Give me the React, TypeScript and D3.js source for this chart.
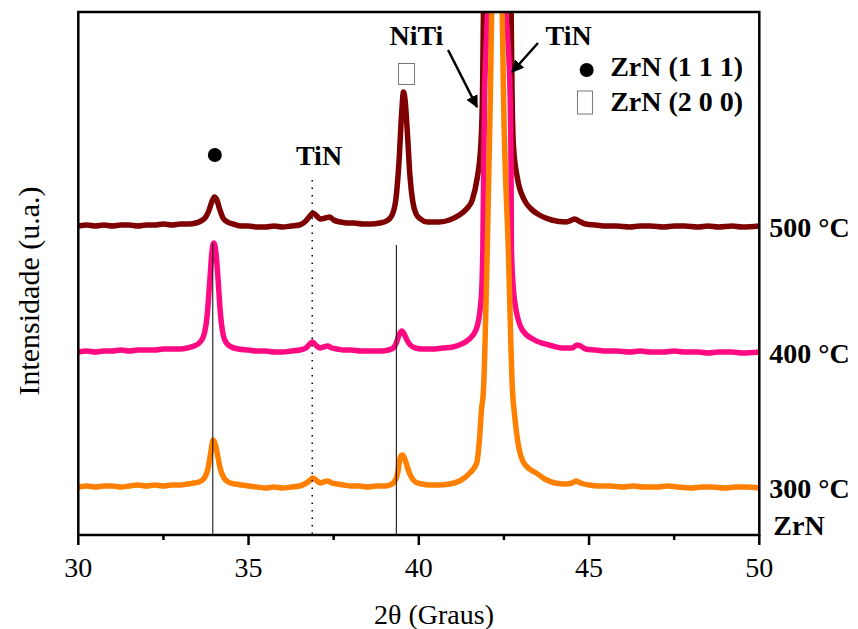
import React from "react";
import * as d3 from "d3";

// 2θ (deg), intensity (a.u., relative to each pattern's own baseline)
const zrn300: [number, number][] = [[30.0,0],[30.25,1],[30.5,0],[30.75,1],[31.0,1],[31.25,0],[31.5,1],[31.75,2],[32.0,1],[32.25,2],[32.5,1],[32.75,2],[33.0,2],[33.2,3],[33.4,4],[33.55,5],[33.7,9],[33.8,17],[33.88,32],[33.96,47],[34.03,42],[34.1,30],[34.18,17],[34.28,9],[34.4,5],[34.6,3],[34.8,2],[35.0,1],[35.25,0],[35.5,-1],[35.75,0],[36.0,-1],[36.25,0],[36.5,1],[36.65,3],[36.78,6],[36.88,9],[36.98,7],[37.1,4],[37.2,5],[37.32,6],[37.45,4],[37.6,3],[37.8,2],[38.0,1],[38.25,1],[38.5,0],[38.75,1],[39.0,1],[39.15,2],[39.28,5],[39.38,14],[39.46,30],[39.52,32],[39.6,27],[39.68,18],[39.78,10],[39.9,5],[40.1,3],[40.3,2],[40.6,2],[40.9,3],[41.2,6],[41.5,14],[41.7,24],[41.78,47],[41.84,77],[41.9,97],[42.01,237],[42.1,387],[42.14,475],[42.2,580],[42.3,640],[42.4,580],[42.45,475],[42.49,387],[42.63,237],[42.75,97],[42.82,70],[42.9,47],[43.04,27],[43.25,18],[43.45,14],[43.7,8],[44.0,4],[44.3,3],[44.5,4],[44.62,6],[44.75,4],[45.0,2],[45.3,1],[45.6,1],[46.0,0],[46.3,1],[46.6,0],[47.0,0],[47.3,1],[47.6,0],[48.0,-1],[48.3,0],[48.6,0],[49.0,-1],[49.3,0],[49.6,0],[50.0,-1]];

const zrn400: [number, number][] = [[30.0,0],[30.25,1],[30.5,0],[30.75,1],[31.0,1],[31.25,2],[31.5,1],[31.75,2],[32.0,2],[32.25,2],[32.5,3],[32.75,3],[33.0,3],[33.2,4],[33.4,6],[33.55,9],[33.68,16],[33.78,35],[33.86,70],[33.93,102],[33.98,109],[34.04,100],[34.1,75],[34.17,40],[34.25,18],[34.35,9],[34.5,5],[34.7,3],[35.0,2],[35.25,1],[35.5,1],[35.75,0],[36.0,0],[36.25,1],[36.5,2],[36.68,4],[36.8,8],[36.88,10],[36.97,7],[37.1,4],[37.2,5],[37.32,6],[37.45,4],[37.6,3],[37.8,2],[38.0,2],[38.3,1],[38.6,1],[38.9,1],[39.1,2],[39.25,4],[39.35,10],[39.43,18],[39.5,21],[39.57,18],[39.65,12],[39.75,7],[39.9,4],[40.1,3],[40.4,3],[40.7,4],[41.0,5],[41.19,7],[41.45,12],[41.68,22],[41.83,52],[41.88,102],[41.93,252],[42.02,340],[42.08,420],[42.2,470],[42.35,470],[42.47,420],[42.51,360],[42.6,320],[42.68,260],[42.71,180],[42.72,102],[42.81,52],[43.04,22],[43.4,12],[43.83,7],[44.2,4],[44.5,4],[44.65,7],[44.75,6],[44.9,3],[45.2,2],[45.5,1],[45.8,1],[46.2,0],[46.5,1],[46.8,0],[47.2,0],[47.5,1],[47.8,0],[48.2,0],[48.5,-1],[48.8,0],[49.2,0],[49.5,-1],[50.0,0]];

const zrn500: [number, number][] = [[30.0,0],[30.25,1],[30.5,0],[30.75,1],[31.0,0],[31.25,1],[31.5,1],[31.75,0],[32.0,1],[32.25,1],[32.5,2],[32.75,1],[33.0,2],[33.25,2],[33.45,3],[33.6,5],[33.72,8],[33.82,14],[33.92,24],[34.0,29],[34.07,26],[34.15,17],[34.25,8],[34.38,4],[34.55,2],[34.8,0],[35.0,0],[35.25,-1],[35.5,-1],[35.75,0],[36.0,-1],[36.25,0],[36.5,1],[36.65,4],[36.78,9],[36.89,13],[37.0,10],[37.12,7],[37.25,8],[37.38,9],[37.5,6],[37.7,4],[37.9,3],[38.1,3],[38.35,2],[38.6,2],[38.85,3],[39.05,5],[39.2,10],[39.32,25],[39.42,65],[39.5,115],[39.55,134],[39.6,125],[39.67,90],[39.74,50],[39.82,25],[39.92,12],[40.05,7],[40.25,4],[40.6,4],[40.9,6],[41.19,11],[41.4,17],[41.57,26],[41.72,49],[41.82,80],[41.87,130],[41.9,220],[41.95,300],[42.3,320],[42.68,300],[42.71,220],[42.74,130],[42.78,80],[42.89,49],[43.1,26],[43.3,17],[43.54,11],[43.9,6],[44.33,4],[44.5,6],[44.58,7],[44.7,5],[44.9,2],[45.2,1],[45.5,0],[45.8,0],[46.2,-1],[46.5,0],[46.8,0],[47.2,-1],[47.5,0],[47.8,0],[48.2,-1],[48.5,0],[48.8,-1],[49.2,0],[49.5,-1],[50.0,0]];

const seriesNames = ["500 °C", "400 °C", "300 °C"];
const seriesData = [zrn500, zrn400, zrn300];
const seriesOffsets = [309, 183, 48];
const seriesColors = ["#7f0000", "#ff0a82", "#ff8000"];

const xTicks = [30, 35, 40, 45, 50];
const xMinorTicks = [32.5, 37.5, 42.5, 47.5];

// reference lines: 2θ, top intensity, dotted?
const refTheta = [33.95, 36.87, 39.34];
const refTop = [292, 355, 290];
const refDotted = [false, true, false];

const W = 858, H = 629;
const M = { left: 78.3, right: 759.3, top: 12, bottom: 535 };

export default function App() {
  const x = d3.scaleLinear().domain([30, 50]).range([M.left, M.right]);
  const y = d3.scaleLinear().domain([0, 523]).range([M.bottom, M.top]);
  const serif = "'Liberation Serif', 'Times New Roman', serif";

  const lines = seriesData.map((d, i) =>
    d3.line<[number, number]>()
      .x((p) => x(p[0]))
      .y((p) => y(p[1] + seriesOffsets[i]))
      .curve(d3.curveMonotoneX)(d) as string
  );

  return (
    <svg width={W} height={H} style={{ position: "absolute", left: 0, top: 0, background: "#fff" }} fontFamily={serif}>
      <defs>
        <clipPath id="plot">
          <rect x={M.left} y={M.top} width={M.right - M.left} height={M.bottom - M.top} />
        </clipPath>
        <marker id="arr" viewBox="0 0 10 10" refX="9" refY="5" markerWidth="5" markerHeight="5" orient="auto">
          <path d="M0,0 L10,5 L0,10 z" fill="#000" />
        </marker>
      </defs>

      <g clipPath="url(#plot)">
        {lines.map((p, i) => (
          <path key={i} d={p} fill="none" stroke={seriesColors[i]} strokeWidth={5.5} strokeLinejoin="round" />
        ))}
        {refTheta.map((t, i) => (
          <line key={i} x1={x(t)} x2={x(t)} y1={y(refTop[i])} y2={y(0)} stroke="#000"
            strokeWidth={refDotted[i] ? 1.5 : 1} strokeDasharray={refDotted[i] ? "1.5,6" : undefined} />
        ))}
      </g>

      {/* frame */}
      <path d={`M${M.left},${M.top} H${M.right} V${M.bottom} H${M.left} Z`} fill="none" stroke="#000" strokeWidth={2.5} />
      {xTicks.map((t) => (
        <g key={t}>
          <line x1={x(t)} x2={x(t)} y1={M.bottom} y2={M.bottom + 10} stroke="#000" strokeWidth={2.5} />
          <text x={x(t)} y={577} fontSize={28} textAnchor="middle">{t}</text>
        </g>
      ))}
      {xMinorTicks.map((t) => (
        <line key={t} x1={x(t)} x2={x(t)} y1={M.bottom} y2={M.bottom + 5} stroke="#000" strokeWidth={2.5} />
      ))}

      <text x={434} y={624} fontSize={28} textAnchor="middle">2θ (Graus)</text>
      <text transform={`translate(39,291) rotate(-90)`} fontSize={30} textAnchor="middle">Intensidade (u.a.)</text>

      {/* right labels */}
      {seriesNames.map((n, i) => (
        <text key={n} x={M.right + 10} y={y(seriesOffsets[i]) + 11} fontSize={28} fontWeight="bold">{n}</text>
      ))}
      <text x={M.right + 14} y={M.bottom} fontSize={28} fontWeight="bold">ZrN</text>

      {/* annotations */}
      <text x={x(39.93)} y={y(490)} fontSize={28} fontWeight="bold" textAnchor="middle">NiTi</text>
      <text x={x(44.4)} y={y(490)} fontSize={28} fontWeight="bold" textAnchor="middle">TiN</text>
      <text x={x(37.07)} y={y(370)} fontSize={28} fontWeight="bold" textAnchor="middle">TiN</text>
      <line x1={x(40.86)} y1={y(485)} x2={x(41.71)} y2={y(428)} stroke="#000" strokeWidth={2.5} markerEnd="url(#arr)" />
      <line x1={x(43.5)} y1={y(492)} x2={x(42.74)} y2={y(463)} stroke="#000" strokeWidth={2.5} markerEnd="url(#arr)" />
      <rect x={x(39.64) - 8} y={y(461) - 10.5} width={16} height={21} fill="#fff" stroke="#777" strokeWidth={1} />
      <circle cx={x(34.01)} cy={y(380)} r={7} fill="#000" />

      {/* legend */}
      <circle cx={x(44.93)} cy={y(465)} r={7} fill="#000" />
      <text x={x(45.62)} y={y(459)} fontSize={28} fontWeight="bold">ZrN (1 1 1)</text>
      <rect x={x(44.88) - 7.5} y={y(432.5) - 11.5} width={15} height={23} fill="#fff" stroke="#777" strokeWidth={1} />
      <text x={x(45.62)} y={y(424)} fontSize={28} fontWeight="bold">ZrN (2 0 0)</text>
    </svg>
  );
}
